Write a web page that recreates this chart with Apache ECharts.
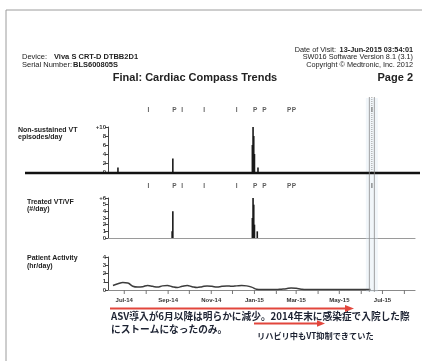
<!DOCTYPE html>
<html>
<head>
<meta charset="utf-8">
<script src="https://cdn.jsdelivr.net/npm/echarts@6/dist/echarts.min.js"></script>
<style>
  html, body { margin: 0; padding: 0; background: #fff; }
  #chart { width: 422px; height: 361px; }
</style>
</head>
<body>
<div id="chart"></div>
<script>
// ---- Data ----------------------------------------------------------------
// Non-sustained VT episodes per day (only days with episodes)
const nsvtDays   = ['2014-06-21', '2014-09-07', '2014-12-29', '2014-12-30', '2014-12-31', '2015-01-01', '2015-01-06'];
const nsvtCounts = [1, 3, 6, 10, 8, 4, 1];

// Treated VT/VF per day
const treatedDays   = ['2014-09-06', '2014-09-07', '2014-12-29', '2014-12-30', '2014-12-31', '2015-01-01', '2015-01-05'];
const treatedCounts = [1, 4, 3, 6, 5, 2, 1];

// Patient activity, weekly average (hr/day)
const activityWeeks = [
  '2014-06-15', '2014-06-22', '2014-06-29', '2014-07-06', '2014-07-13', '2014-07-20', '2014-07-27',
  '2014-08-03', '2014-08-10', '2014-08-17', '2014-08-24', '2014-08-31', '2014-09-07', '2014-09-14',
  '2014-09-21', '2014-09-28', '2014-10-05', '2014-10-12', '2014-10-19', '2014-10-26', '2014-11-02',
  '2014-11-09', '2014-11-16', '2014-11-23', '2014-11-30', '2014-12-07', '2014-12-14', '2014-12-21',
  '2014-12-28', '2015-01-04', '2015-01-11', '2015-01-18', '2015-01-25', '2015-02-01', '2015-02-08',
  '2015-02-15', '2015-02-22', '2015-03-01', '2015-03-08', '2015-03-15', '2015-03-22', '2015-03-29',
  '2015-04-05', '2015-04-12', '2015-04-19', '2015-04-26', '2015-05-03', '2015-05-10', '2015-05-17',
  '2015-05-24', '2015-05-31', '2015-06-07', '2015-06-14'
];
const activityHours = [
  0.55, 0.75, 0.9, 0.85, 0.45, 0.35, 0.4,
  0.55, 0.45, 0.35, 0.5, 0.55, 0.4, 0.3,
  0.45, 0.55, 0.4, 0.3, 0.4, 0.5, 0.45,
  0.35, 0.45, 0.5, 0.45, 0.5, 0.55, 0.5,
  0.35, 0.1, 0.05, 0.05, 0.05, 0.05, 0.1,
  0.15, 0.25, 0.2, 0.1, 0.05, 0.05, 0.05,
  0.05, 0.05, 0.05, 0.05, 0.05, 0.05, 0.05,
  0.05, 0.05, 0.05, 0.05
];

// Device events: I = interrogation, P = programming
const eventDays  = ['2014-08-04', '2014-09-10', '2014-09-21', '2014-10-22', '2014-12-07', '2015-01-02', '2015-01-15', '2015-02-19', '2015-02-26', '2015-06-16'];
const eventCodes = ['I', 'P', 'I', 'I', 'I', 'P', 'P', 'P', 'P', 'I'];
const sessionDay = '2015-06-16';

// Time axis
const rangeStart = '2014-06-08';
const rangeEnd   = '2015-08-16';
const monthTickDays = ['2014-07-01', '2014-08-01', '2014-09-01', '2014-10-01', '2014-11-01', '2014-12-01', '2015-01-01',
                       '2015-02-01', '2015-03-01', '2015-04-01', '2015-05-01', '2015-06-01', '2015-07-01', '2015-08-01'];
const monthLabelDays = ['2014-07-01', '2014-09-01', '2014-11-01', '2015-01-01', '2015-03-01', '2015-05-01', '2015-07-01'];
const monthLabels    = ['Jul-14', 'Sep-14', 'Nov-14', 'Jan-15', 'Mar-15', 'May-15', 'Jul-15'];

// Value axis tick labels
const nsvtTickLabels     = ['0', '2', '4', '6', '8', '+10'];
const treatedTickLabels  = ['0', '1', '2', '3', '4', '5', '+6'];
const activityTickLabels = ['0', '1', '2', '3', '4'];

// ---- Helpers -------------------------------------------------------------
const T = s => new Date(s + 'T00:00:00').getTime();
const pairs = (days, vals) => days.map((d, i) => [T(d), vals[i]]);

const SANS = '"Liberation Sans", Arial, sans-serif';
const CJK = '"Noto Sans CJK JP", sans-serif';
const GRID_L = 108, GRID_R = 7;

function timeAxis(gridIndex, extra) {
  return Object.assign({
    type: 'time', gridIndex, min: T(rangeStart), max: T(rangeEnd),
    axisLine: { show: false }, axisTick: { show: false },
    axisLabel: { show: false }, splitLine: { show: false }
  }, extra || {});
}
function hiddenY(gridIndex) {
  return { type: 'value', gridIndex, min: 0, max: 1, show: false };
}
function countY(gridIndex, max, interval, labels) {
  return {
    type: 'value', gridIndex, min: 0, max, interval,
    axisLine: { show: true, lineStyle: { color: '#444', width: 1 } },
    axisTick: { show: true, length: 3, lineStyle: { color: '#444' } },
    axisLabel: {
      fontSize: 6, fontWeight: 'bold', color: '#333', fontFamily: SANS, margin: 2,
      formatter: v => labels[Math.round(v / interval)]
    },
    splitLine: { show: false }
  };
}
function eventRow(axisIndex) {
  return {
    type: 'scatter', xAxisIndex: axisIndex, yAxisIndex: axisIndex,
    symbol: 'rect', symbolSize: 1, itemStyle: { color: 'rgba(0,0,0,0)' },
    data: eventDays.map(d => [T(d), 0.5]),
    label: {
      show: true, position: 'inside', fontSize: 6.5, fontWeight: 'bold',
      color: '#333', fontFamily: SANS,
      formatter: p => eventCodes[p.dataIndex]
    },
    silent: true
  };
}

// ---- Chart ---------------------------------------------------------------
const chart = echarts.init(document.getElementById('chart'), null, { renderer: 'canvas' });

const option = {
  animation: false,
  backgroundColor: '#ffffff',
  grid: [
    { left: GRID_L, right: GRID_R, top: 105, height: 10 },   // event row (top)
    { left: GRID_L, right: GRID_R, top: 127, height: 45 },   // non-sustained VT
    { left: GRID_L, right: GRID_R, top: 181, height: 10 },   // event row (middle)
    { left: GRID_L, right: GRID_R, top: 198, height: 40 },   // treated VT/VF
    { left: GRID_L, right: GRID_R, top: 257, height: 33 }    // patient activity
  ],
  xAxis: [
    timeAxis(0),
    timeAxis(1),
    timeAxis(2),
    timeAxis(3, { axisLine: { show: true, lineStyle: { color: '#9a9a9a', width: 1.2 } } }),
    timeAxis(4, { axisLine: { show: true, lineStyle: { color: '#8a8a8a', width: 1.2 } } })
  ],
  yAxis: [
    hiddenY(0),
    countY(1, 10, 2, nsvtTickLabels),
    hiddenY(2),
    countY(3, 6, 1, treatedTickLabels),
    countY(4, 4, 1, activityTickLabels)
  ],
  series: [
    eventRow(0),
    {
      name: 'Non-sustained VT', type: 'bar', xAxisIndex: 1, yAxisIndex: 1,
      barWidth: 1.6, itemStyle: { color: '#1a1a1a' },
      data: pairs(nsvtDays, nsvtCounts)
    },
    eventRow(2),
    {
      name: 'Treated VT/VF', type: 'bar', xAxisIndex: 3, yAxisIndex: 3,
      barWidth: 1.6, itemStyle: { color: '#1a1a1a' },
      data: pairs(treatedDays, treatedCounts)
    },
    {
      name: 'Patient Activity', type: 'line', xAxisIndex: 4, yAxisIndex: 4,
      smooth: 0.4, symbol: 'none',
      lineStyle: { color: '#3c3c3c', width: 1.5 },
      data: pairs(activityWeeks, activityHours)
    }
  ]
};

chart.setOption(option);

// ---- Page furniture: header, panel captions, month scale, notes ----------
function text(x, y, str, size, weight, opts) {
  return {
    type: 'text', silent: true, z: 10,
    style: Object.assign({
      x, y, text: str, fontSize: size, fontWeight: weight, fontFamily: SANS,
      fill: '#222', textAlign: 'left', textVerticalAlign: 'middle'
    }, opts || {})
  };
}
function line(x1, y1, x2, y2, color, width, extra) {
  return {
    type: 'line', silent: true, z: 5,
    shape: { x1, y1, x2, y2 },
    style: Object.assign({ stroke: color, lineWidth: width }, extra || {})
  };
}
function arrow(x1, x2, y, color, width, head) {
  return [
    line(x1, y, x2 - head * 0.6, y, color, width),
    {
      type: 'polygon', silent: true, z: 6,
      shape: { points: [[x2 - head, y - head * 0.4], [x2, y], [x2 - head, y + head * 0.4]] },
      style: { fill: color }
    }
  ];
}

// pixel positions from the activity panel's time scale
const xOf = d => chart.convertToPixel({ xAxisIndex: 4 }, T(d));
const baseY = chart.convertToPixel({ yAxisIndex: 4 }, 0);
const sx = xOf(sessionDay);
const red = '#e2463c';
const ink = '#1d2333';

const monthTicks = monthTickDays.map(d => line(xOf(d), baseY, xOf(d), baseY + 4, '#777', 1));
const monthText = monthLabelDays.map((d, i) =>
  text(xOf(d), baseY + 10, monthLabels[i], 6, 'bold', { textAlign: 'center', fill: '#333' }));

const graphics = [
  // page edge
  line(6, 10, 422, 10, '#9c9c9c', 1),
  line(6, 10, 6, 361, '#9c9c9c', 1),

  // header
  text(22, 57, 'Device:', 7.5, 'normal'),
  text(54, 57, 'Viva S CRT-D DTBB2D1', 7.5, 'bold'),
  text(22, 64.5, 'Serial Number:', 7.5, 'normal'),
  text(73, 64.5, 'BLS600805S', 7.5, 'bold'),
  text(336, 50, 'Date of Visit:', 7.3, 'normal', { textAlign: 'right' }),
  text(413, 50, '13-Jun-2015 03:54:01', 7.3, 'bold', { textAlign: 'right' }),
  text(413, 57, 'SW016 Software Version 8.1 (3.1)', 7.3, 'normal', { textAlign: 'right' }),
  text(413, 64.5, 'Copyright \u00A9 Medtronic, Inc. 2012', 7.3, 'normal', { textAlign: 'right' }),
  text(195, 78, 'Final: Cardiac Compass Trends', 11, 'bold', { textAlign: 'center' }),
  text(413, 78, 'Page 2', 11, 'bold', { textAlign: 'right' }),

  // panel captions
  text(18, 130.5, 'Non-sustained VT', 7, 'bold'),
  text(18, 137.5, 'episodes/day', 7, 'bold'),
  text(27, 202, 'Treated VT/VF', 7, 'bold'),
  text(27, 209.5, '(#/day)', 7, 'bold'),
  text(27, 258.5, 'Patient Activity', 7, 'bold'),
  text(27, 266, '(hr/day)', 7, 'bold'),

  // heavy separator under the episode panel
  line(25, 173, 420, 173, '#111', 2.5),

  // month scale
  ...monthTicks,
  ...monthText,

  // session marker
  {
    type: 'rect', silent: true, z: 1,
    shape: { x: sx - 6, y: 98, width: 12, height: 194 },
    style: { fill: 'rgba(215,228,240,0.35)' }
  },
  line(sx - 2.5, 97, sx - 2.5, 292, '#8a8a8a', 0.8),
  line(sx + 2.5, 97, sx + 2.5, 292, '#8a8a8a', 0.8),
  line(sx, 97, sx, 172, '#9a9a9a', 1, { lineDash: [1, 1] }),

  // notes
  ...arrow(110, 354, 308.5, red, 2, 9),
  ...arrow(254, 325, 323.5, red, 1.8, 8),
  text(111, 316, 'ASV導入が6月以降は明らかに減少。2014年末に感染症で入院した際', 9.7, 'bold', { fontFamily: CJK, fill: ink }),
  text(111, 329, 'にストームになったのみ。', 9.7, 'bold', { fontFamily: CJK, fill: ink }),
  text(257, 336, 'リハビリ中もVT抑制できていた', 8.2, 'bold', { fontFamily: CJK, fill: ink })
];

chart.setOption({ graphic: graphics });
</script>
</body>
</html>
